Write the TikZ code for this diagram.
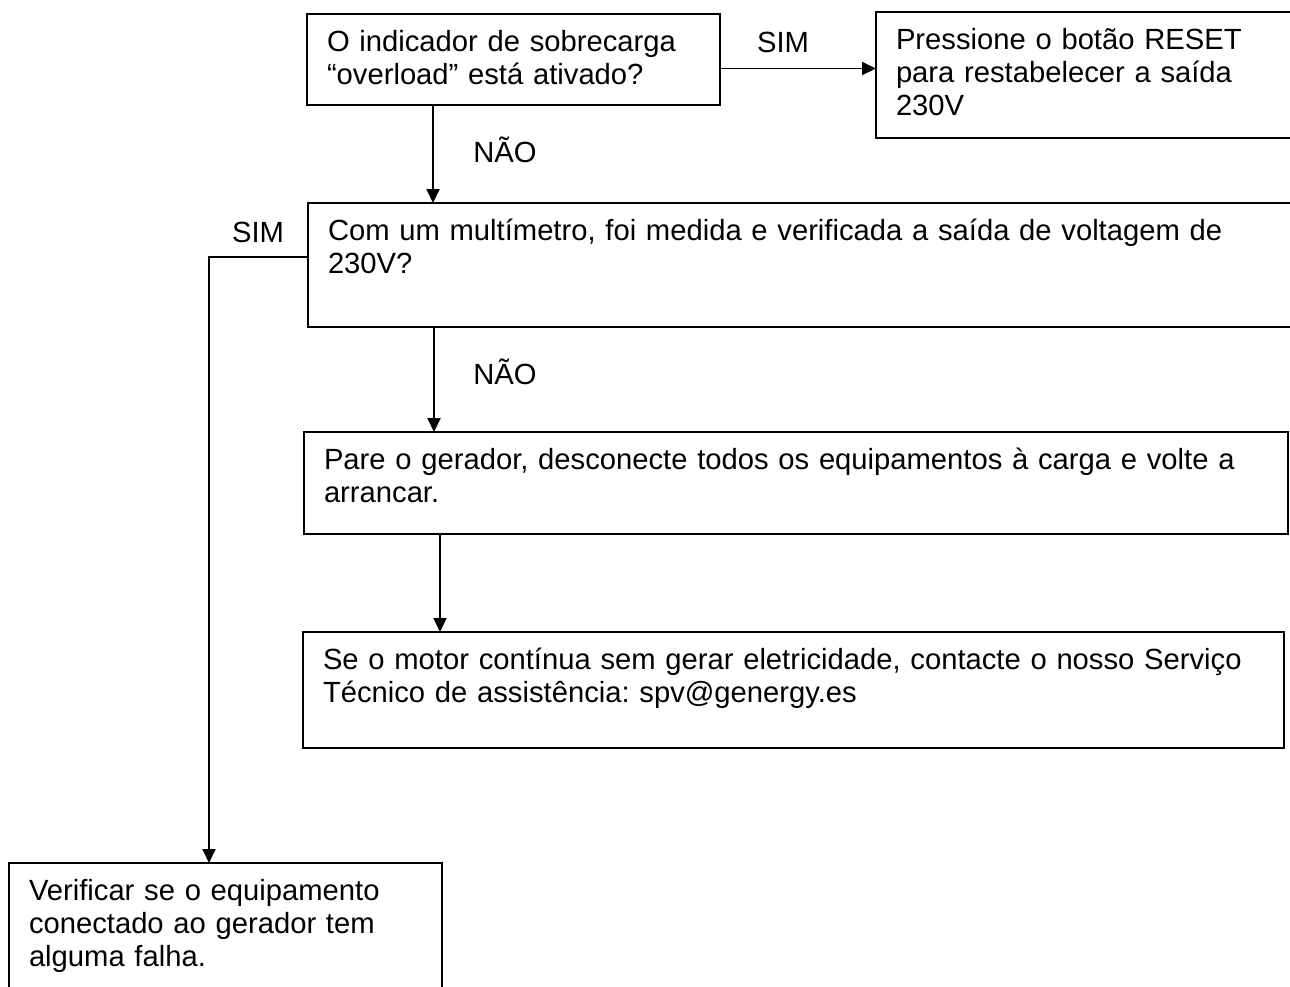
\documentclass[tikz,border=0pt]{standalone}
\usepackage{fontspec}
\setmainfont{Liberation Sans}
\usetikzlibrary{positioning, arrows.meta}
\frenchspacing

\begin{document}
\begin{tikzpicture}[
  x=0.5pt, y=-0.5pt,
  box/.style={rectangle, draw, line width=0.95pt, outer sep=0pt,
              anchor=north west, align=left,
              inner xsep=10pt, inner ysep=8pt, text height=10.5pt,
              font=\fontsize{14.6pt}{16.6pt}\selectfont},
  lbl/.style={font=\fontsize{14.6pt}{16.6pt}\selectfont},
  arr/.style={-{Triangle[length=7pt, width=6.5pt]}, line width=0.95pt}
]
  \useasboundingbox (0,0) rectangle (1290,986);

  \node[box, text width=186.5pt, text depth=19pt] (over) at (307,14)
    {O indicador de sobrecarga\\“overload” está ativado?};
  \node[box, text width=200pt, text depth=36.5pt,
        right=78pt of over.north east, anchor=north west, yshift=1pt] (reset)
    {Pressione o botão RESET\\para restabelecer a saída\\230V};
  \node[box, text width=480pt, text depth=35.5pt,
        below=49pt of over.south west, anchor=north west, xshift=0.5pt] (multi)
    {Com um multímetro, foi medida e verificada a saída de voltagem de\\230V?};
  \node[box, text width=472pt, text depth=24.5pt,
        below=52.5pt of multi.south west, anchor=north west, xshift=-2pt] (pare)
    {Pare o gerador, desconecte todos os equipamentos à carga e volte a\\arrancar.};
  \node[box, text width=470.5pt, text depth=31.5pt,
        below=49pt of pare.south west, anchor=north west, xshift=-0.5pt] (motor)
    {Se o motor contínua sem gerar eletricidade, contacte o nosso Serviço\\Técnico de assistência: spv@genergy.es};
  \node[box, text width=196.5pt, text depth=42pt,
        below=57.5pt of motor.south west, anchor=north west, xshift=-147pt] (verif)
    {Verificar se o equipamento\\conectado ao gerador tem\\alguma falha.};

  % labels
  \node[lbl] (sim1) at (783,42)  {SIM};
  \node[lbl] (nao1) at (505,150) {NÃO};
  \node[lbl] (nao2) at (505,372) {NÃO};
  \node[lbl] (sim2) at (258,232) {SIM};

  % connectors
  \coordinate (simfrom)  at ([yshift=-4.5pt]over.east);
  \coordinate (nao1from) at ([xshift=63pt]over.south west);
  \coordinate (nao2from) at ([xshift=63pt]multi.south west);
  \coordinate (parefrom) at ([xshift=68pt]pare.south west);
  \coordinate (sim2from) at ([yshift=-27pt]multi.north west);
  \coordinate (sim2to)   at ([xshift=100pt]verif.north west);

  \draw[arr] (simfrom) -- (simfrom -| reset.west);
  \draw[arr] (nao1from) -- (nao1from |- multi.north);
  \draw[arr] (nao2from) -- (nao2from |- pare.north);
  \draw[arr] (parefrom) -- (parefrom |- motor.north);
  \draw[arr] (sim2from) -| (sim2to);
\end{tikzpicture}
\end{document}
